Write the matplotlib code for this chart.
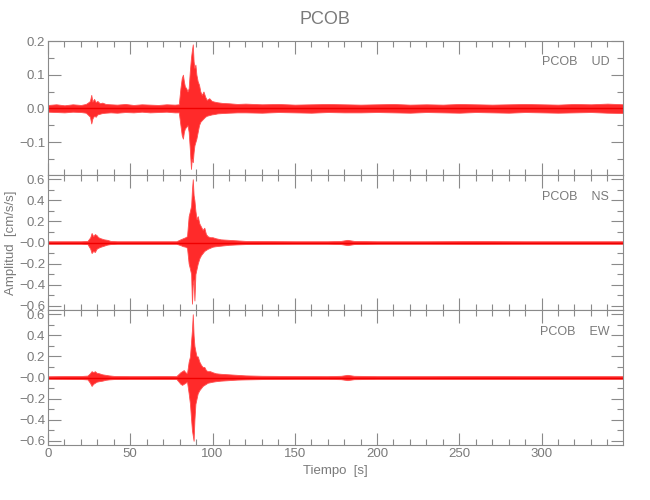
import numpy as np
import matplotlib.pyplot as plt
from matplotlib.ticker import MultipleLocator

# --- seismogram envelopes, station PCOB ---
# time knots [s] and upper / lower envelope of the trace [cm/s/s]
t_ud = [0, 5, 10, 15, 20, 23, 24.5, 25.5, 26.3, 27, 28, 29, 30, 31.5, 33, 35, 38, 42, 47, 52, 57, 62, 67, 72, 77, 79.5,
        80.5, 81.3, 82, 82.6, 83.2, 84, 84.8, 85.5, 86.2, 86.9, 87.4, 88, 88.5, 89, 89.6, 90.2, 91, 91.8, 92.6, 93.5,
        94.5, 95.5, 96.5, 98, 99.5, 101, 103, 106, 110, 115, 120, 130, 140, 150, 160, 170, 180, 190, 200, 210, 220,
        230, 240, 250, 260, 270, 280, 290, 300, 310, 320, 330, 340, 350]
up_ud = [0.010, 0.012, 0.009, 0.012, 0.010, 0.013, 0.018, 0.022, 0.040, 0.020, 0.028, 0.018, 0.022, 0.015, 0.017,
         0.013, 0.012, 0.011, 0.013, 0.010, 0.012, 0.011, 0.010, 0.012, 0.011, 0.012,
         0.060, 0.090, 0.100, 0.080, 0.065, 0.060, 0.050, 0.060, 0.110, 0.150, 0.170, 0.190, 0.140, 0.120, 0.130,
         0.100, 0.080, 0.070, 0.050, 0.040, 0.050, 0.035, 0.025, 0.030, 0.022, 0.020, 0.018, 0.016, 0.015, 0.013,
         0.014, 0.012, 0.013, 0.011, 0.012, 0.013, 0.012, 0.011, 0.012, 0.013, 0.011, 0.012, 0.011, 0.013, 0.012,
         0.011, 0.012, 0.013, 0.012, 0.011, 0.013, 0.012, 0.014, 0.012]
lo_ud = [-0.010, -0.011, -0.012, -0.010, -0.011, -0.013, -0.020, -0.025, -0.045, -0.030, -0.022, -0.025, -0.018,
         -0.016, -0.014, -0.013, -0.012, -0.013, -0.011, -0.012, -0.010, -0.012, -0.011, -0.010, -0.012, -0.012,
         -0.050, -0.080, -0.090, -0.070, -0.060, -0.055, -0.050, -0.070, -0.120, -0.180, -0.150, -0.160, -0.130,
         -0.110, -0.100, -0.090, -0.070, -0.050, -0.040, -0.035, -0.030, -0.025, -0.022, -0.020, -0.018, -0.017,
         -0.015, -0.014, -0.013, -0.012, -0.012, -0.013, -0.011, -0.012, -0.013, -0.011, -0.012, -0.012, -0.011,
         -0.012, -0.013, -0.011, -0.012, -0.013, -0.011, -0.012, -0.013, -0.011, -0.012, -0.013, -0.012, -0.011,
         -0.013, -0.014]

t_ns = [0, 10, 20, 24, 25.7, 26.5, 27.5, 28.5, 29.5, 30.5, 32, 34, 36, 38, 42, 50, 60, 70, 78, 80.5, 82, 83.5, 84.5,
        85.5, 86.3, 87, 87.5, 88, 88.5, 89, 89.6, 90.3, 91, 92, 93, 94, 95, 96, 97, 98.5, 100, 102, 105, 110, 115,
        120, 130, 150, 170, 178, 182, 186, 200, 230, 260, 290, 320, 350]
up_ns = [0.012, 0.012, 0.012, 0.015, 0.050, 0.090, 0.060, 0.080, 0.070, 0.050, 0.040, 0.030, 0.025, 0.015, 0.012,
         0.012, 0.012, 0.012, 0.012, 0.030, 0.040, 0.050, 0.060, 0.250, 0.300, 0.350, 0.500, 0.600, 0.450, 0.400,
         0.300, 0.220, 0.250, 0.180, 0.150, 0.120, 0.140, 0.080, 0.060, 0.050, 0.050, 0.040, 0.030, 0.025, 0.020,
         0.015, 0.014, 0.012, 0.012, 0.015, 0.025, 0.015, 0.012, 0.012, 0.014, 0.012, 0.012, 0.012]
lo_ns = [-0.012, -0.012, -0.012, -0.015, -0.060, -0.100, -0.080, -0.090, -0.060, -0.050, -0.040, -0.030, -0.020,
         -0.015, -0.012, -0.012, -0.012, -0.012, -0.012, -0.025, -0.035, -0.040, -0.050, -0.200, -0.250, -0.300,
         -0.580, -0.400, -0.350, -0.550, -0.300, -0.250, -0.200, -0.150, -0.120, -0.100, -0.080, -0.070, -0.060,
         -0.050, -0.040, -0.035, -0.030, -0.022, -0.018, -0.015, -0.013, -0.012, -0.012, -0.015, -0.025, -0.015,
         -0.012, -0.012, -0.013, -0.012, -0.012, -0.012]

t_ew = [0, 10, 20, 24, 25.5, 26.5, 27.5, 28.5, 29.5, 31, 33, 35, 37, 40, 50, 60, 70, 78, 80.5, 81.5, 82.5, 83.5,
        84.5, 85.5, 86.3, 87, 87.5, 88, 88.5, 89, 89.6, 90.3, 91, 92, 93, 94, 95, 96, 97, 98.5, 100, 102, 105, 110,
        115, 120, 130, 150, 170, 178, 182, 186, 200, 230, 260, 290, 320, 350]
up_ew = [0.012, 0.014, 0.014, 0.018, 0.040, 0.060, 0.050, 0.060, 0.045, 0.040, 0.030, 0.025, 0.020, 0.015, 0.013,
         0.013, 0.014, 0.013, 0.050, 0.060, 0.070, 0.050, 0.040, 0.150, 0.200, 0.350, 0.450, 0.600, 0.400, 0.300,
         0.250, 0.200, 0.200, 0.150, 0.120, 0.100, 0.100, 0.070, 0.060, 0.060, 0.050, 0.040, 0.035, 0.030, 0.025,
         0.020, 0.016, 0.014, 0.013, 0.016, 0.025, 0.016, 0.013, 0.013, 0.014, 0.013, 0.013, 0.013]
lo_ew = [-0.012, -0.013, -0.014, -0.018, -0.050, -0.080, -0.060, -0.050, -0.040, -0.035, -0.030, -0.022, -0.018,
         -0.015, -0.013, -0.013, -0.013, -0.013, -0.060, -0.070, -0.060, -0.050, -0.040, -0.150, -0.250, -0.400,
         -0.500, -0.550, -0.600, -0.400, -0.250, -0.200, -0.150, -0.120, -0.100, -0.080, -0.070, -0.060, -0.050,
         -0.045, -0.040, -0.035, -0.030, -0.025, -0.020, -0.018, -0.015, -0.013, -0.013, -0.016, -0.025, -0.016,
         -0.013, -0.013, -0.013, -0.013, -0.013, -0.013]

components = ['UD', 'NS', 'EW']
station = 'PCOB'

grey = '#8a8a8a'
txt = '#7a7a7a'
plt.rcParams['font.family'] = ['Liberation Sans', 'DejaVu Sans']

fig = plt.figure(figsize=(6.5, 5), dpi=100)
W, H = 650.0, 500.0
x0, x1 = 48, 623
tops = [41, 175, 310]
bots = [175, 310, 445]

data = [(t_ud, up_ud, lo_ud), (t_ns, up_ns, lo_ns), (t_ew, up_ew, lo_ew)]
axes = []
for i, (t, up, lo) in enumerate(data):
    ax = fig.add_axes([x0 / W, 1 - bots[i] / H, (x1 - x0) / W, (bots[i] - tops[i]) / H])
    ax.fill_between(t, lo, up, color='#ff2a2a', lw=0.6, edgecolor='#ff5050')
    ax.axhline(0, color='#f00000', lw=1.0)
    ax.set_xlim(0, 349.5)
    ax.xaxis.set_major_locator(MultipleLocator(50))
    ax.xaxis.set_minor_locator(MultipleLocator(10))
    if i == 0:
        ax.set_ylim(-0.198, 0.2)
        ax.set_yticks([-0.1, 0.0, 0.1, 0.2])
        ax.set_yticklabels(['\u22120.1', '0.0', '0.1', '0.2'])
        ax.yaxis.set_minor_locator(MultipleLocator(0.05))
    else:
        ax.set_ylim(-0.64, 0.64)
        yt = [-0.6, -0.4, -0.2, 0.0, 0.2, 0.4, 0.6]
        ax.set_yticks(yt)
        ax.set_yticklabels(['\u22120.6', '\u22120.4', '\u22120.2', '\u22120.0', '0.2', '0.4', '0.6'])
        ax.yaxis.set_minor_locator(MultipleLocator(0.1))
    ax.tick_params(which='both', direction='in', top=True, right=True, colors=grey,
                   labelcolor=txt, labelsize=9.5, width=0.8)
    ax.tick_params(which='major', length=9, pad=2)
    ax.tick_params(which='minor', length=4.5)
    for s in ax.spines.values():
        s.set_color(grey)
        s.set_linewidth(0.8)
    if i < 2:
        ax.tick_params(labelbottom=False)
    ax.text(0.976, 0.84, station + '    ' + components[i], transform=ax.transAxes,
            ha='right', va='center', color=txt, fontsize=9)
    axes.append(ax)

axes[2].set_xlabel('Tiempo  [s]', color=txt, fontsize=9.5, labelpad=4)
fig.text(11 / W, 1 - 243 / H, 'Amplitud  [cm/s/s]', rotation=90, ha='center', va='center',
         color=txt, fontsize=9.5)
fig.text(0.5, 1 - 20 / H, station, ha='center', va='center', color=txt, fontsize=13)

fig.savefig('out.png', dpi=100)
